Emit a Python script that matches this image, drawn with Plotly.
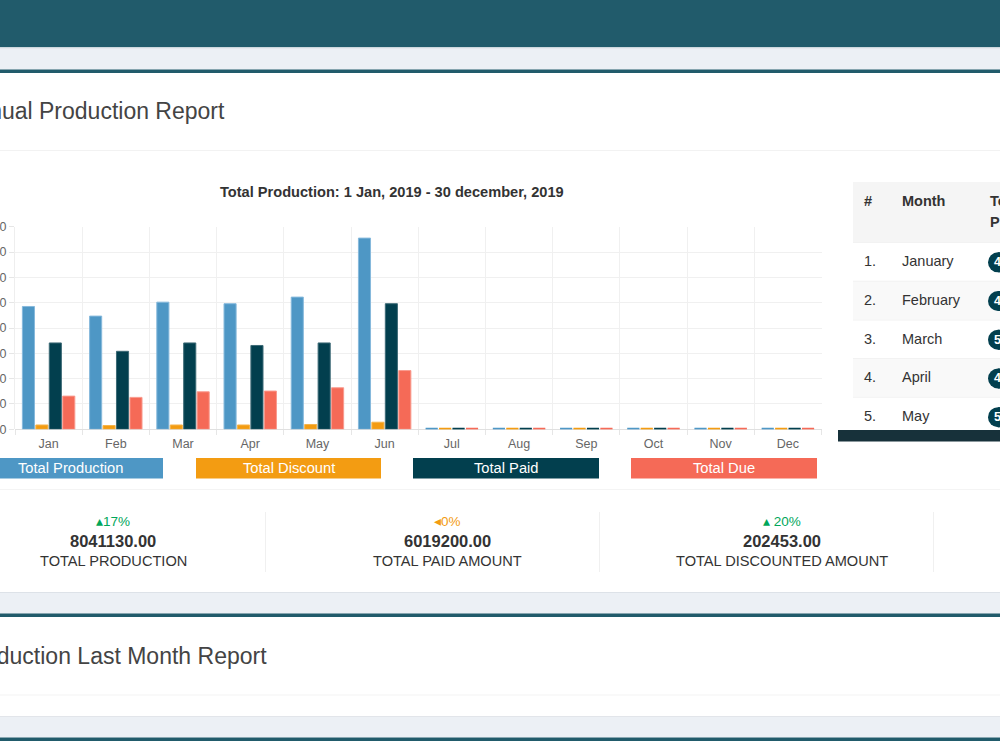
import plotly.graph_objects as go

# ---------------- data ----------------
months = ["Jan", "Feb", "Mar", "Apr", "May", "Jun", "Jul", "Aug", "Sep", "Oct", "Nov", "Dec"]
total_production = [485000, 447000, 502000, 496000, 522000, 755000, 0, 0, 0, 0, 0, 0]
total_discount = [17000, 15000, 17000, 17000, 19000, 28000, 0, 0, 0, 0, 0, 0]
total_paid = [341000, 308000, 341000, 331000, 341000, 496000, 0, 0, 0, 0, 0, 0]
total_due = [131000, 126000, 148000, 151000, 164000, 232000, 0, 0, 0, 0, 0, 0]

series_names = ["Total Production", "Total Discount", "Total Paid", "Total Due"]
series_values = [total_production, total_discount, total_paid, total_due]
series_fill = ["#4e97c5", "#f39c12", "#023f4e", "#f56a57"]
series_border = ["#86b9dc", "#f6b44a", "#3d6a76", "#f99a8e"]

y_ticks = [0, 100000, 200000, 300000, 400000, 500000, 600000, 700000, 800000]

table_months = ["January", "February", "March", "April", "May"]
table_totals = total_production[:5]

stat_pcts = ["\u25b417%", "\u25c20%", "\u25b4 20%"]
stat_pct_colors = ["#00a65a", "#f39c12", "#00a65a"]
stat_values = ["8041130.00", "6019200.00", "202453.00"]
stat_labels = ["TOTAL PRODUCTION", "TOTAL PAID AMOUNT", "TOTAL DISCOUNTED AMOUNT"]

chart_title = "Total Production: 1 Jan, 2019 - 30 december, 2019"

# ---------------- helpers ----------------
W, H = 1000, 750
FONT = "Liberation Sans, Arial, sans-serif"
TEAL = "#215b6b"
GRAYBAND = "#ecf0f5"
STUB = 6500  # minimal visible height for zero-value bars (style)

shapes = []
annotations = []


def px(x):
    return x / W


def py(y):
    return 1 - y / H


def rect(x0, y0, x1, y1, color, layer="below"):
    shapes.append(dict(type="rect", xref="paper", yref="paper",
                       x0=px(x0), x1=px(x1), y0=py(y1), y1=py(y0),
                       fillcolor=color, line=dict(width=0), layer=layer))


def text(x, y, s, size=14.5, color="#333333", bold=False, xanchor="left"):
    annotations.append(dict(xref="paper", yref="paper", x=px(x), y=py(y),
                            text=("<b>%s</b>" % s) if bold else s,
                            showarrow=False, xanchor=xanchor, yanchor="middle",
                            font=dict(family=FONT, size=size, color=color)))


# ---------------- page chrome ----------------
rect(0, 0, 1000, 47.5, TEAL)
rect(0, 47.5, 1000, 70, GRAYBAND)
rect(0, 47.5, 1000, 48.5, "#dde2e8")
rect(0, 69.5, 1000, 73, TEAL)
rect(0, 150, 1000, 151, "#f2f2f2")
rect(0, 489, 1000, 490, "#f4f4f4")
rect(0, 592, 1000, 614, GRAYBAND)
rect(0, 592, 1000, 593, "#dde2e8")
rect(0, 613.5, 1000, 617, TEAL)
rect(0, 694.5, 1000, 695.5, "#f4f4f4")
rect(0, 716, 1000, 737.5, GRAYBAND)
rect(0, 716, 1000, 717, "#e2e5ea")
rect(0, 737.5, 1000, 741, TEAL)

text(227, 111, "Annual Production Report", size=23, color="#444444", xanchor="right")
text(269, 656, "Production Last Month Report", size=23, color="#444444", xanchor="right")

# ---------------- legend boxes ----------------
legend_x = [(-23, 163), (196, 381), (413, 599), (631, 817)]
for (x0, x1), name, col in zip(legend_x, series_names, series_fill):
    rect(x0, 458, x1, 478.5, col)
    text((x0 + x1) / 2, 468, name, size=14.7, color="white", xanchor="center")

# ---------------- stats ----------------
for xd in (265, 599, 933):
    rect(xd, 512, xd + 1, 572, "#f0f0f0")
for cx, pct, pc, val, lab in zip((113, 447, 782), stat_pcts, stat_pct_colors, stat_values, stat_labels):
    text(cx, 521, pct, size=13.5, color=pc, xanchor="center")
    text(cx, 541, val, size=16.5, color="#333333", bold=True, xanchor="center")
    text(cx, 561, lab, size=14.6, color="#333333", xanchor="center")

# ---------------- table ----------------
rect(853, 182, 1000, 242, "#f5f5f5")
text(862, 201, "#", bold=True)
text(900, 201, "Month", bold=True)
text(988, 201, "Total", bold=True)
text(988, 222, "Production", bold=True)
row_h = 38.7
for i, (m, v) in enumerate(zip(table_months, table_totals)):
    y0 = 242 + i * row_h
    cy = y0 + row_h / 2
    if i % 2 == 1:
        rect(853, y0, 1000, y0 + row_h, "#f9f9f9")
    rect(853, y0, 1000, y0 + 1, "#f2f2f2")
    text(862, cy, "%d." % (i + 1))
    text(900, cy, m)
    shapes.append(dict(type="circle", xref="paper", yref="paper",
                       x0=px(988), x1=px(1008), y0=py(cy + 11), y1=py(cy - 9),
                       fillcolor="#023f4e", line=dict(width=0), layer="above"))
    rect(998, cy - 9, 1010, cy + 11, "#023f4e", layer="above")
    text(992, cy + 1, str(v), size=12.5, color="white", bold=True)
rect(838, 430, 1000, 441.5, "#17313a", layer="above")

# ---------------- chart ----------------
x_pos = list(range(len(months)))
fig = go.Figure()
for i, (name, vals, fc, bc) in enumerate(zip(series_names, series_values, series_fill, series_border)):
    fig.add_trace(go.Bar(x=x_pos, y=vals, name=name, offsetgroup=str(i),
                         marker=dict(color=fc, line=dict(color=bc, width=1)),
                         showlegend=False, hoverinfo="skip"))
    stub = [STUB if v == 0 else 0 for v in vals]
    fig.add_trace(go.Bar(x=x_pos, y=stub, name=name + " ", offsetgroup=str(i),
                         marker=dict(color=fc, line=dict(width=0)),
                         showlegend=False, hoverinfo="skip"))

text(392, 192, chart_title, size=14.6, color="#333333", bold=True, xanchor="center")

fig.update_layout(
    width=W, height=H, autosize=False,
    margin=dict(l=0, r=0, t=0, b=0, autoexpand=False),
    paper_bgcolor="white", plot_bgcolor="rgba(0,0,0,0)",
    barmode="group", bargap=0.2, bargroupgap=0.1,
    showlegend=False,
    shapes=shapes, annotations=annotations,
    font=dict(family=FONT, color="#666666"),
    xaxis=dict(domain=[px(15), px(821.5)], range=[-0.5, 11.5], automargin=False,
               tickmode="array", tickvals=x_pos, ticktext=months,
               ticks="outside", ticklen=3, tickcolor="rgba(0,0,0,0)",
               showgrid=False, zeroline=False, showline=False,
               tickfont=dict(family=FONT, size=12.5, color="#666666"),
               minor=dict(tickmode="linear", tick0=-0.5, dtick=1, ticks="outside",
                          ticklen=5, tickcolor="#e6e6e6", showgrid=True,
                          gridcolor="#f0f0f0", gridwidth=1),
               fixedrange=True),
    yaxis=dict(domain=[py(429.3), py(226.7)], range=[0, 800000], automargin=False,
               tickmode="array", tickvals=y_ticks, ticktext=[str(v) for v in y_ticks],
               ticks="outside", ticklen=5, tickcolor="#e6e6e6",
               showgrid=True, gridcolor="#f0f0f0", gridwidth=1,
               zeroline=True, zerolinecolor="#e0e0e0", zerolinewidth=1,
               showline=True, linecolor="#eeeeee", linewidth=1,
               tickfont=dict(family=FONT, size=12.5, color="#666666"),
               fixedrange=True),
)

fig.write_html("out.html")
